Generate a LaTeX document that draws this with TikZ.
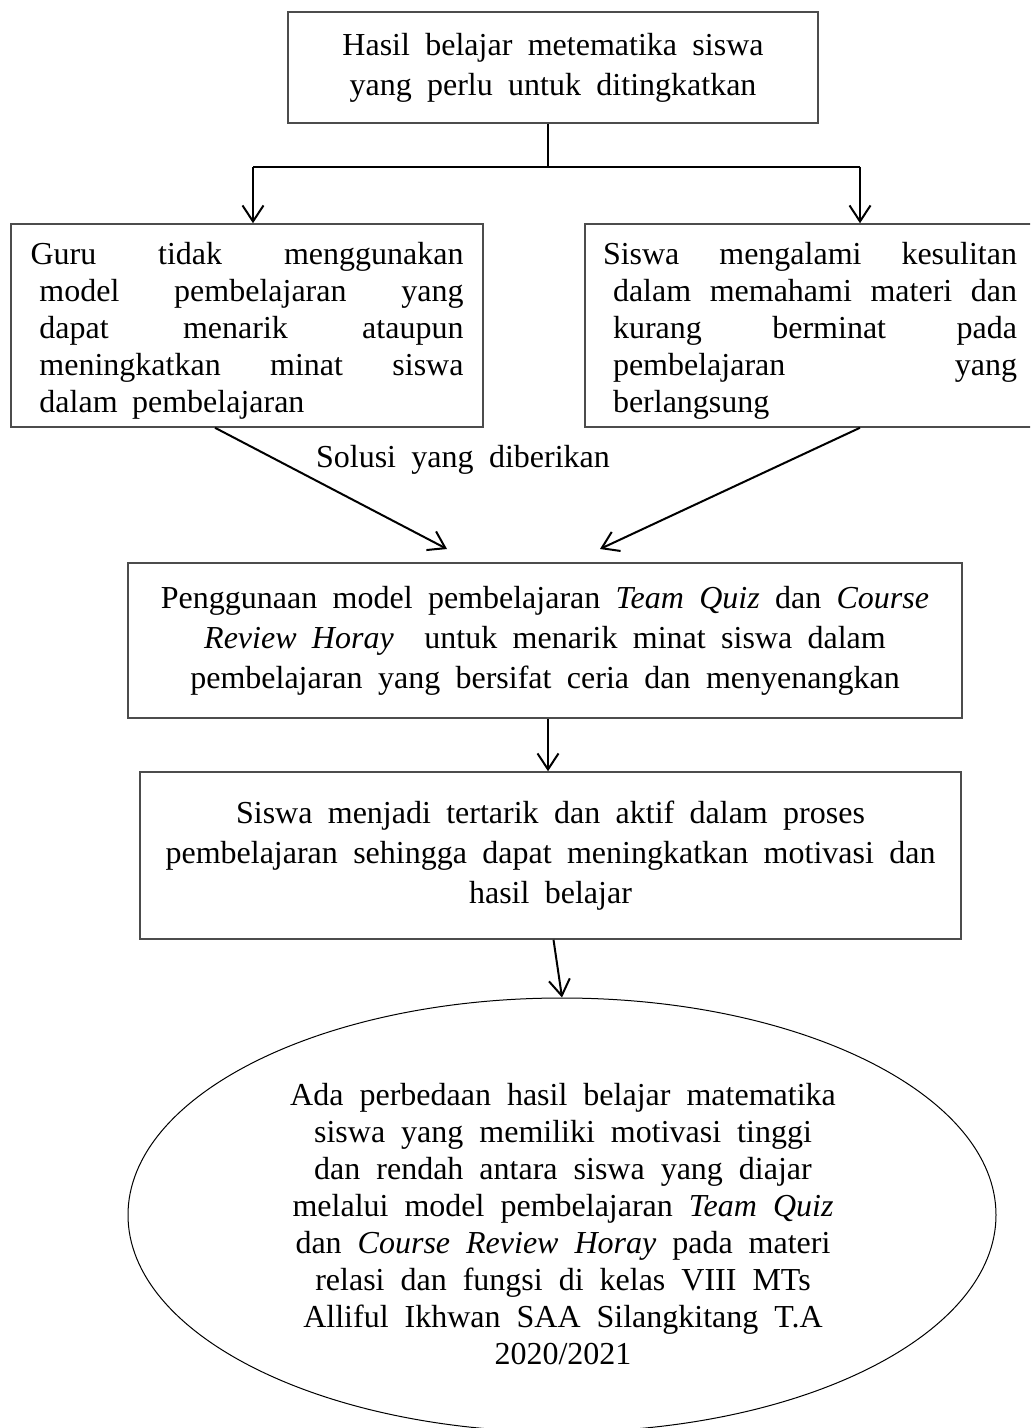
\documentclass[tikz,border=0pt]{standalone}
\usepackage{fontspec}
\setmainfont{Liberation Serif}
\usetikzlibrary{arrows.meta,shapes.geometric}
% fonts for the boxes
\newcommand{\wideboxfont}{\fontsize{16pt}{20pt}\selectfont\spaceskip=0.48em plus 0.15em minus 0.05em\relax}
\newcommand{\sideboxfont}{\fontsize{16pt}{18.5pt}\selectfont}
\newcommand{\ellfont}{\fontsize{16pt}{18.5pt}\selectfont\spaceskip=0.5em plus 0.15em minus 0.05em\relax}
% invisible strut giving the first line of a side box some head room
\newcommand{\headroom}{\rule{0pt}{16pt}}
\begin{document}
\begin{tikzpicture}[x=0.5pt,y=-0.5pt,
  box/.style={draw=black!70, line width=0.75pt, rectangle, inner sep=0pt, align=center,
    font=\wideboxfont},
  sidebox/.style={box, align=left, font=\sideboxfont},
  lbl/.style={inner sep=0pt, font=\wideboxfont},
  arr/.style={line width=1pt, -{Straight Barb[length=8pt,width=10.5pt]}},
  link/.style={line width=1pt}
]
\clip (0,0) rectangle (1030,1428);

% problem statement
\node[box, minimum width=265pt, minimum height=55.5pt] (top) at (553,67.5)
  {Hasil belajar metematika siswa\\ yang perlu untuk ditingkatkan};

% the two causes (justified lines, the last one left as it is)
\node[sidebox, minimum width=236pt, minimum height=101.5pt, text width=216.5pt] (left) at (247,325.5)
  {\headroom Guru\hfill tidak\hfill menggunakan\par
   \hspace*{4.5pt}model\hfill pembelajaran\hfill yang\par
   \hspace*{4.5pt}dapat\hfill menarik\hfill ataupun\par
   \hspace*{4.5pt}meningkatkan\hfill minat\hfill siswa\par
   \hspace*{4.5pt}dalam\hspace{0.45em}pembelajaran\par};
\node[sidebox, minimum width=225pt, minimum height=101.5pt, text width=207pt] (right) at (810,325.5)
  {\headroom Siswa\hfill mengalami\hfill kesulitan\par
   \hspace*{5pt}dalam\hfill memahami\hfill materi\hfill dan\par
   \hspace*{5pt}kurang\hfill berminat\hfill pada\par
   \hspace*{5pt}pembelajaran\hfill yang\par
   \hspace*{5pt}berlangsung\par};

% proposed solution
\node[box, minimum width=417pt, minimum height=77.5pt] (mid) at (545,640.5)
  {Penggunaan model pembelajaran \textit{Team Quiz} dan \textit{Course}\\
   \textit{Review Horay}\ \ untuk menarik minat siswa dalam\\
   pembelajaran yang bersifat ceria dan menyenangkan};

% expected effect
\node[box, minimum width=410.5pt, minimum height=83.5pt] (res) at (550.5,855.5)
  {Siswa menjadi tertarik dan aktif dalam proses\\
   pembelajaran sehingga dapat meningkatkan motivasi dan\\
   hasil belajar};

% hypothesis
\node[draw=black, line width=0.5pt, ellipse, inner sep=0pt,
      minimum width=434pt, minimum height=217pt] (ell) at (562,1215) {};
\node[inner sep=0pt, align=center, font=\ellfont] (elltext) at (563,1224)
  {Ada perbedaan hasil belajar matematika\\
   siswa yang memiliki motivasi tinggi\\
   dan rendah antara siswa yang diajar\\
   melalui model pembelajaran \textit{Team Quiz}\\
   dan \textit{Course Review Horay} pada materi\\
   relasi dan fungsi di kelas VIII MTs\\
   Alliful Ikhwan SAA Silangkitang T.A\\
   2020/2021};

% branching from the problem to the causes
\coordinate (j) at (548,167);
\coordinate (jl) at (253,167);
\coordinate (jr) at (860,167);
\draw[link] (top.south -| j) -- (j);
\draw[link] (jl) -- (jr);
\draw[arr] (jl) -- (jl |- left.north);
\draw[arr] (jr) -- (jr |- right.north);

% causes converge on the solution
\coordinate (tipL) at (447,549);
\coordinate (tipR) at (600,549);
\draw[arr] ([xshift=-16pt]left.south) -- (tipL);
\draw[arr] ([xshift=25pt]right.south) -- (tipR);
\node[lbl] (sol) at (463,460) {Solusi yang diberikan};

% solution to effect to hypothesis
\draw[arr] (mid.south -| j) -- (res.north -| j);
\draw[arr] ([xshift=1.5pt]res.south) -- (ell.north);
\end{tikzpicture}
\end{document}
